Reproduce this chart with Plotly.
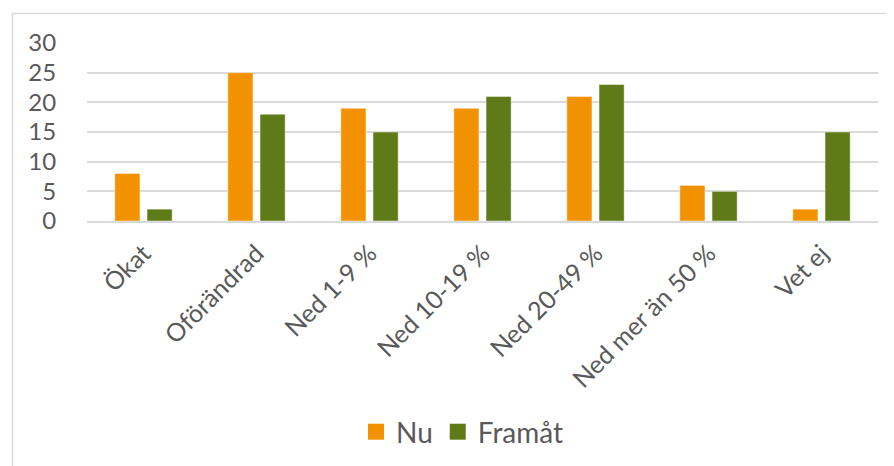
import plotly.graph_objects as go

categories = ["Ökat", "Oförändrad", "Ned 1-9 %", "Ned 10-19 %", "Ned 20-49 %", "Ned mer än 50 %", "Vet ej"]
nu = [8, 25, 19, 19, 21, 6, 2]
framat = [2, 18, 15, 21, 23, 5, 15]
y_ticks = [0, 5, 10, 15, 20, 25, 30]

ORANGE = "#F39200"
GREEN = "#5E7B18"
TEXT = "#595959"
GRID = "#D9D9D9"
FONT = "Lato"

fig = go.Figure()
fig.add_trace(go.Bar(x=categories, y=nu, name="Nu", marker=dict(color=ORANGE, line=dict(color="rgba(255,255,255,0.45)", width=1)), showlegend=False))
fig.add_trace(go.Bar(x=categories, y=framat, name="Framåt", marker=dict(color=GREEN, line=dict(color="rgba(255,255,255,0.45)", width=1)), showlegend=False))
# legend entries
fig.add_trace(go.Scatter(x=[None], y=[None], mode="markers", name="Nu", marker=dict(symbol="square", size=16, color=ORANGE)))
fig.add_trace(go.Scatter(x=[None], y=[None], mode="markers", name="Framåt", marker=dict(symbol="square", size=16, color=GREEN)))

# page offset of the figure (default body margin)
OFF = 8
W, H = 894, 466
L, R, T, B = 87 - OFF, 894 - (878 - OFF), 43 - OFF, 466 - (221 - OFF)
pw, ph = W - L - R, H - T - B

def px_x(x):
    return (x - OFF - L) / pw

def px_y(y):
    return (H - B - (y - OFF)) / ph

fig.update_layout(
    width=W, height=H,
    margin=dict(l=L, r=R, t=T, b=B, pad=0, autoexpand=False),
    paper_bgcolor="white", plot_bgcolor="white",
    font=dict(family=FONT, color=TEXT),
    barmode="group", bargap=0.43, bargroupgap=0.22,
    legend=dict(orientation="h", x=px_x(356), xanchor="left", y=px_y(432), yanchor="middle",
                font=dict(size=28, color=TEXT), itemsizing="trace", itemwidth=30,
                tracegroupgap=0, bgcolor="rgba(0,0,0,0)"),
    shapes=[dict(type="rect", xref="paper", yref="paper",
                 x0=px_x(12.5), x1=px_x(1100), y0=px_y(700), y1=px_y(13.5),
                 line=dict(color="#D9D9D9", width=1.5), layer="below")],
)
fig.update_xaxes(
    type="category", tickangle=-45, tickfont=dict(size=25, color=TEXT, family=FONT),
    showline=True, linecolor=GRID, linewidth=2, showgrid=False, automargin=False,
    ticks="outside", ticklen=6, tickcolor="rgba(0,0,0,0)",
)
fig.update_yaxes(
    range=[0, 30], tickvals=y_ticks, tickfont=dict(size=24, color=TEXT, family=FONT),
    showgrid=True, gridcolor=GRID, gridwidth=1.6, zeroline=False, automargin=False,
    ticks="outside", ticklen=25, tickcolor="rgba(0,0,0,0)",
)

fig.write_html("out.html")
